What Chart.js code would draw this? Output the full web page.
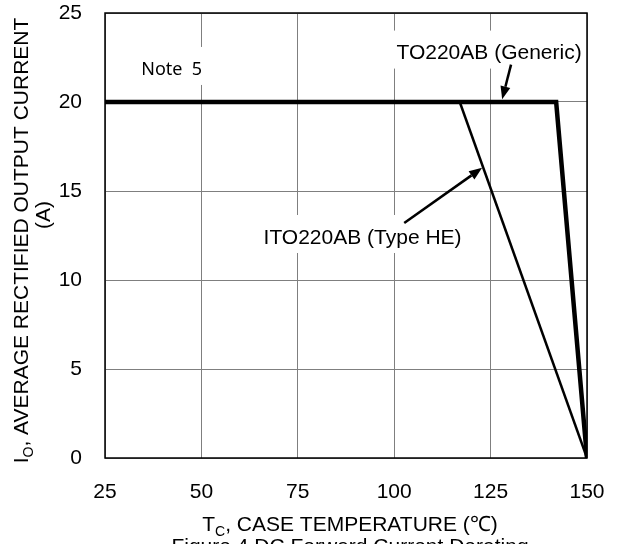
<!DOCTYPE html>
<html>
<head>
<meta charset="utf-8">
<script src="https://cdn.jsdelivr.net/npm/chart.js@4.4.1/dist/chart.umd.min.js"></script>
<style>
  html, body { margin: 0; padding: 0; background: #fff; }
  #wrap { width: 621px; height: 544px; position: relative; }
</style>
</head>
<body>
<div id="wrap"><canvas id="c" width="621" height="544"></canvas></div>
<script>
// ---- data ----
const tempTicks = [25, 50, 75, 100, 125, 150];
const currentTicks = [0, 5, 10, 15, 20, 25];
const genericTemp = [25, 142, 150];
const genericCurrent = [20, 20, 0];
const itoTemp = [117, 150];
const itoCurrent = [20, 0];

const xTitle = [{ t: 'T' }, { t: 'C', sub: true }, { t: ', CASE TEMPERATURE (\u2103)' }];
const yTitle = [{ t: 'I' }, { t: 'O', sub: true }, { t: ', AVERAGE RECTIFIED OUTPUT CURRENT' }];
const yTitle2 = '(A)';
const caption = 'Figure 4 DC Forward Current Derating';

// annotations (label anchor + arrow in data units)
const notes = [
  { text: 'TO220AB (Generic)', x: 124.6, y: 22.72, from: [130.3, 22.1], to: [128.0, 20.15] },
  { text: 'ITO220AB (Type HE)', x: 91.8, y: 12.36, from: [102.6, 13.2], to: [122.8, 16.3] },
  { text: 'Note  5', x: 42.3, y: 21.8, small: true }
];

const FONT = '"Liberation Sans", Arial, sans-serif';

function drawRich(ctx, segs, size, cx, cy) {
  const subSize = Math.round(size * 0.68);
  let total = 0;
  const widths = segs.map(s => {
    ctx.font = (s.sub ? subSize : size) + 'px ' + FONT;
    const w = ctx.measureText(s.t).width;
    total += w;
    return w;
  });
  let x = cx - total / 2;
  ctx.textAlign = 'left';
  ctx.textBaseline = 'alphabetic';
  segs.forEach((s, i) => {
    ctx.font = (s.sub ? subSize : size) + 'px ' + FONT;
    ctx.fillText(s.t, x, cy + (s.sub ? 5 : 0));
    x += widths[i];
  });
}

function arrow(ctx, x1, y1, x2, y2) {
  const ang = Math.atan2(y2 - y1, x2 - x1);
  const L = 13, W = 5;
  const bx = x2 - L * Math.cos(ang), by = y2 - L * Math.sin(ang);
  ctx.beginPath();
  ctx.moveTo(x1, y1);
  ctx.lineTo(bx, by);
  ctx.lineWidth = 2.5;
  ctx.strokeStyle = '#000';
  ctx.stroke();
  ctx.beginPath();
  ctx.moveTo(x2, y2);
  ctx.lineTo(bx + W * Math.sin(ang), by - W * Math.cos(ang));
  ctx.lineTo(bx - W * Math.sin(ang), by + W * Math.cos(ang));
  ctx.closePath();
  ctx.fillStyle = '#000';
  ctx.fill();
}

function noPad(s) {
  s.paddingTop = 0; s.paddingBottom = 0; s.paddingLeft = 0; s.paddingRight = 0;
}

const decor = {
  id: 'decor',
  beforeDatasetsDraw(chart) {
    const { ctx, chartArea: a, scales: { x, y } } = chart;
    ctx.save();
    notes.forEach(n => {
      const px = x.getPixelForValue(n.x), py = y.getPixelForValue(n.y);
      ctx.font = n.small ? '18px "Noto Sans", sans-serif' : '21px ' + FONT;
      const w = ctx.measureText(n.text).width;
      ctx.fillStyle = '#fff';
      ctx.fillRect(px - w / 2 - 3, py - 23, w + 6, 38);
      ctx.fillStyle = '#000';
      ctx.textAlign = 'center';
      ctx.textBaseline = 'middle';
      ctx.fillText(n.text, px, py);
    });
    ctx.strokeStyle = '#000';
    ctx.lineWidth = 1.5;
    ctx.strokeRect(a.left, a.top, a.right - a.left, a.bottom - a.top);
    ctx.restore();
  },
  afterDatasetsDraw(chart) {
    const { ctx, scales: { x, y } } = chart;
    ctx.save();
    notes.forEach(n => {
      if (!n.from) return;
      arrow(ctx, x.getPixelForValue(n.from[0]), y.getPixelForValue(n.from[1]),
        x.getPixelForValue(n.to[0]), y.getPixelForValue(n.to[1]));
    });
    ctx.restore();
  },
  afterDraw(chart) {
    const { ctx } = chart;
    ctx.save();
    ctx.fillStyle = '#000';
    drawRich(ctx, xTitle, 21, 350, 531);
    ctx.font = '21px ' + FONT;
    ctx.textAlign = 'center';
    ctx.textBaseline = 'alphabetic';
    ctx.fillText(caption, 350, 553);
    ctx.translate(28, 240.5);
    ctx.rotate(-Math.PI / 2);
    drawRich(ctx, yTitle, 21, 0, 0);
    ctx.restore();
    ctx.save();
    ctx.fillStyle = '#000';
    ctx.translate(50, 215);
    ctx.rotate(-Math.PI / 2);
    ctx.font = '21px ' + FONT;
    ctx.textAlign = 'center';
    ctx.textBaseline = 'alphabetic';
    ctx.fillText(yTitle2, 0, 0);
    ctx.restore();
  }
};

new Chart(document.getElementById('c'), {
  type: 'scatter',
  data: {
    datasets: [
      {
        label: 'TO220AB (Generic)',
        data: genericTemp.map((t, i) => ({ x: t, y: genericCurrent[i] })),
        showLine: true, borderColor: '#000', borderWidth: 4.5, pointRadius: 0,
        borderJoinStyle: 'miter'
      },
      {
        label: 'ITO220AB (Type HE)',
        data: itoTemp.map((t, i) => ({ x: t, y: itoCurrent[i] })),
        showLine: true, borderColor: '#000', borderWidth: 2.5, pointRadius: 0
      }
    ]
  },
  options: {
    responsive: false,
    animation: false,
    devicePixelRatio: 1,
    layout: { padding: { top: 13, right: 34, left: 0, bottom: 0 } },
    plugins: { legend: { display: false }, tooltip: { enabled: false }, title: { display: false } },
    scales: {
      x: {
        type: 'linear',
        min: tempTicks[0], max: tempTicks[tempTicks.length - 1],
        afterBuildTicks(s) { s.ticks = tempTicks.map(v => ({ value: v })); },
        afterFit(s) { s.height = 86; noPad(s); },
        ticks: { color: '#000', font: { family: FONT, size: 21 }, padding: 22, maxRotation: 0 },
        grid: { color: '#7f7f7f', lineWidth: 1, drawTicks: false },
        border: { display: false }
      },
      y: {
        type: 'linear',
        min: currentTicks[0], max: currentTicks[currentTicks.length - 1],
        afterBuildTicks(s) { s.ticks = currentTicks.map(v => ({ value: v })); },
        afterFit(s) { s.width = 105; noPad(s); },
        ticks: { color: '#000', font: { family: FONT, size: 21 }, padding: 23 },
        grid: { color: '#7f7f7f', lineWidth: 1, drawTicks: false },
        border: { display: false }
      }
    }
  },
  plugins: [decor]
});
</script>
</body>
</html>
